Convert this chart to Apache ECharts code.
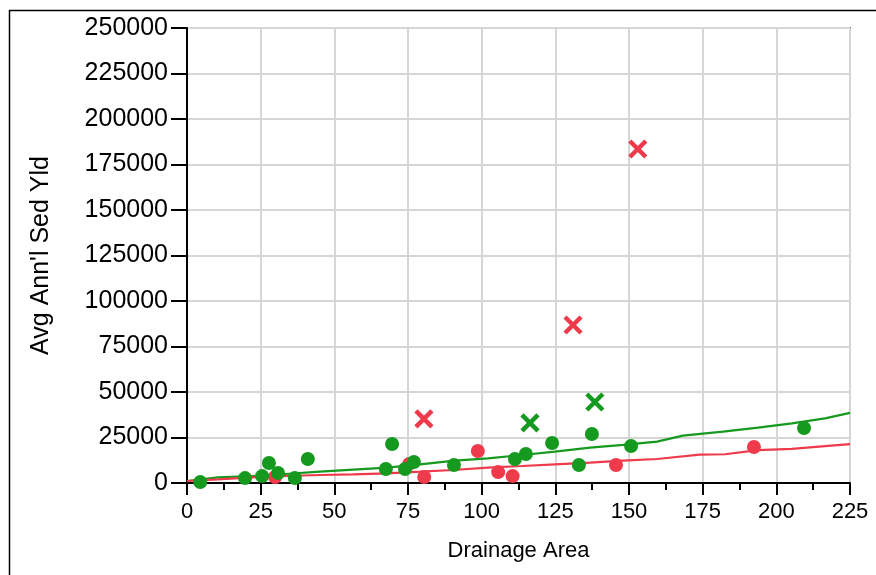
<!DOCTYPE html>
<html><head><meta charset="utf-8">
<script src="https://cdn.jsdelivr.net/npm/echarts@6/dist/echarts.min.js"></script>
<style>html,body{margin:0;padding:0;background:#fff}#c{width:876px;height:575px}</style>
</head><body><div id="c"></div>
<script>
var xTicks = [0, 25, 50, 75, 100, 125, 150, 175, 200, 225];
var yTicks = [0, 25000, 50000, 75000, 100000, 125000, 150000, 175000, 200000, 225000, 250000];

var greenDotX = [4.5, 19.7, 25.5, 27.8, 30.9, 36.6, 41, 67.5, 69.6, 74, 77, 90.6, 111.3, 115, 123.9, 133, 137.4, 150.7, 209.4];
var greenDotY = [500, 2700, 3800, 11000, 5500, 2700, 13200, 7700, 21400, 7700, 11500, 9900, 13200, 15900, 22000, 9900, 26900, 20300, 30200];

var redDotX = [29.9, 75.4, 80.5, 98.7, 105.6, 110.5, 145.6, 192.4];
var redDotY = [3300, 10500, 3300, 17600, 6000, 3800, 9900, 19800];

var redCrossX = [80.4, 131, 153];
var redCrossY = [35200, 86800, 183500];

var greenCrossX = [116.4, 138.4];
var greenCrossY = [33000, 44500];

var greenLineX = [0, 10.5, 22, 33.3, 45.1, 67.9, 79.1, 90.9, 102.1, 113.7, 124.9, 136.8, 148, 159.5, 168.3, 181.9, 193.8, 205.3, 216.5, 225];
var greenLineY = [1100, 3130, 3850, 4950, 6200, 8400, 10270, 12250, 13570, 15380, 17200, 19400, 20900, 22700, 26000, 28200, 30400, 32800, 35500, 38500];

var redLineX = [0, 10.5, 22, 33.3, 45.1, 56.3, 67.9, 79.1, 90.3, 102.1, 113.7, 124.9, 136.8, 148, 159.5, 174, 182.6, 193.8, 205.3, 216.5, 225];
var redLineY = [1100, 2030, 3130, 3850, 4400, 4780, 5330, 6200, 7140, 8400, 9340, 10270, 11150, 12250, 13200, 15550, 15800, 18100, 18700, 20300, 21400];

var GREEN = '#15991f';
var RED = '#ef3a4c';

function zip(a, b) { return a.map(function (v, i) { return [v, b[i]]; }); }

var crossPath = 'path://M0,0L10,10M10,0L0,10';
var FONT = 'Liberation Sans, Arial, sans-serif';

var chart = echarts.init(document.getElementById('c'), null, {renderer: 'canvas'});
chart.setOption({
  animation: false,
  backgroundColor: '#fff',
  graphic: [{
    type: 'rect', shape: {x: 9.5, y: 10.5, width: 1000, height: 1000},
    style: {fill: 'none', stroke: '#000', lineWidth: 1.5}, silent: true, z: -10
  }],
  grid: {left: 187, right: 26, top: 28, bottom: 92, show: true, borderColor: '#000', borderWidth: 1.5, backgroundColor: 'transparent'},
  xAxis: {
    type: 'value', min: xTicks[0], max: xTicks[xTicks.length - 1], interval: 25,
    name: 'Drainage Area', nameLocation: 'middle', nameGap: 57,
    nameTextStyle: {color: '#000', fontSize: 22, fontFamily: FONT},
    axisLine: {show: true, onZero: false, lineStyle: {color: '#000', width: 2}},
    axisTick: {show: true, length: 12, lineStyle: {color: '#000', width: 2}},
    minorTick: {show: true, splitNumber: 2, length: 7, lineStyle: {color: '#000', width: 2}},
    axisLabel: {color: '#000', fontSize: 22, margin: 18, fontFamily: FONT},
    splitLine: {show: true, lineStyle: {color: '#d6d6d6', width: 2}}
  },
  yAxis: {
    type: 'value', min: yTicks[0], max: yTicks[yTicks.length - 1], interval: 25000,
    name: "Avg Ann'l Sed Yld", nameLocation: 'middle', nameGap: 133,
    nameTextStyle: {color: '#000', fontSize: 25, fontFamily: FONT},
    axisLine: {show: true, onZero: false, lineStyle: {color: '#000', width: 2}},
    axisTick: {show: true, length: 16, lineStyle: {color: '#000', width: 2}},
    axisLabel: {color: '#000', fontSize: 25, margin: 19, fontFamily: FONT, formatter: function (v) { return String(v); }},
    splitLine: {show: true, lineStyle: {color: '#d6d6d6', width: 2}}
  },
  series: [
    {type: 'line', data: zip(greenLineX, greenLineY), symbol: 'none', lineStyle: {color: GREEN, width: 2.2}, z: 2},
    {type: 'line', data: zip(redLineX, redLineY), symbol: 'none', lineStyle: {color: RED, width: 2.2}, z: 2},
    {type: 'scatter', data: zip(redDotX, redDotY), symbol: 'circle', symbolSize: 14, itemStyle: {color: RED, opacity: 1}, z: 3},
    {type: 'scatter', data: zip(greenDotX, greenDotY), symbol: 'circle', symbolSize: 14, itemStyle: {color: GREEN, opacity: 1}, z: 4},
    {type: 'scatter', data: zip(redCrossX, redCrossY), symbol: crossPath, symbolSize: 16, itemStyle: {color: 'none', borderColor: RED, borderWidth: 4.5, opacity: 1}, z: 5},
    {type: 'scatter', data: zip(greenCrossX, greenCrossY), symbol: crossPath, symbolSize: 16, itemStyle: {color: 'none', borderColor: GREEN, borderWidth: 4.5, opacity: 1}, z: 5}
  ]
});
</script></body></html>
